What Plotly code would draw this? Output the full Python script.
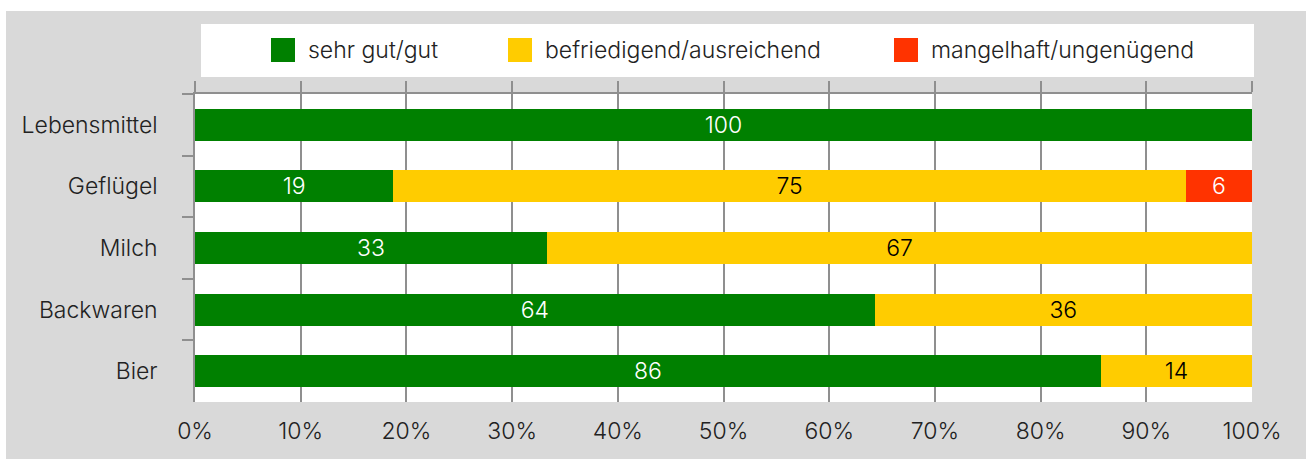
import plotly.graph_objects as go

categories = ["Lebensmittel", "Geflügel", "Milch", "Backwaren", "Bier"]
series_names = ["sehr gut/gut", "befriedigend/ausreichend", "mangelhaft/ungenügend"]
good = [100, 18.75, 33.3, 64.3, 85.7]
medium = [0, 75, 66.7, 35.7, 14.3]
bad = [0, 6.25, 0, 0, 0]
good_labels = ["100", "19", "33", "64", "86"]
medium_labels = ["", "75", "67", "36", "14"]
bad_labels = ["", "6", "", "", ""]
x_ticks = [0, 10, 20, 30, 40, 50, 60, 70, 80, 90, 100]
x_tick_labels = [f"{v}%" for v in x_ticks]

colors = ["#008000", "#ffcc00", "#ff3300"]
text_colors = ["white", "black", "white"]

W, H = 1306, 459
L, R, T, B = 195, 54, 94, 57
PW, PH = W - L - R, H - T - B
FONT = "Inter, Liberation Sans, Arial, sans-serif"
FSIZE = 23
FWEIGHT = 300
GRID = "#8f8f8f"


def px2x(px):
    return (px - L) / PW


def px2y(py):
    return 1 - (py - T) / PH


fig = go.Figure()
for vals, labels, name, col, tcol in zip(
    [good, medium, bad], [good_labels, medium_labels, bad_labels],
    series_names, colors, text_colors
):
    fig.add_trace(go.Bar(
        y=categories, x=vals, name=name, orientation="h",
        marker=dict(color=col, line=dict(width=0)),
        text=labels, texttemplate="%{text}", textposition="inside",
        insidetextanchor="middle", textangle=0, constraintext="none",
        insidetextfont=dict(color=tcol, size=FSIZE, family=FONT, weight=FWEIGHT),
        showlegend=False, hoverinfo="skip",
    ))

# invisible trace for the top axis (ticks only)
fig.add_trace(go.Scatter(x=[0, 100], y=[categories[0], categories[0]], xaxis="x2",
                         mode="markers", marker=dict(opacity=0), showlegend=False,
                         hoverinfo="skip"))

shapes = [
    dict(type="rect", xref="paper", yref="paper", x0=px2x(0), x1=px2x(W), y0=px2y(0), y1=px2y(11),
         fillcolor="white", line=dict(width=0), layer="below"),
    dict(type="rect", xref="paper", yref="paper", x0=px2x(0), x1=px2x(6), y0=px2y(0), y1=px2y(H),
         fillcolor="white", line=dict(width=0), layer="below"),
    dict(type="rect", xref="paper", yref="paper", x0=px2x(201), x1=px2x(1254), y0=px2y(24), y1=px2y(77),
         fillcolor="white", line=dict(width=0), layer="below"),
]
annotations = []
legend_sq = [271, 508, 894]
for sx, name, col in zip(legend_sq, series_names, colors):
    shapes.append(dict(type="rect", xref="paper", yref="paper", x0=px2x(sx), x1=px2x(sx + 24),
                       y0=px2y(38), y1=px2y(62), fillcolor=col, line=dict(width=0), layer="above"))
    annotations.append(dict(text=name, xref="paper", yref="paper", x=px2x(sx + 35), y=px2y(50),
                            xanchor="left", yanchor="middle", showarrow=False,
                            font=dict(size=FSIZE, color="#222222", family=FONT, weight=FWEIGHT)))

fig.update_layout(
    width=W, height=H,
    margin=dict(l=L, r=R, t=T, b=B, pad=0),
    paper_bgcolor="#d9d9d9", plot_bgcolor="white",
    barmode="stack", bargap=0.48,
    font=dict(family=FONT, size=FSIZE, color="#222222", weight=FWEIGHT),
    shapes=shapes, annotations=annotations,
    xaxis=dict(range=[0, 100], tickvals=x_ticks, ticktext=x_tick_labels,
               showgrid=True, gridcolor=GRID, gridwidth=1.5, zeroline=False,
               showline=False, ticks="", ticklabelstandoff=13, fixedrange=True),
    xaxis2=dict(range=[0, 100], tickvals=x_ticks, overlaying="x", side="top",
                showgrid=False, zeroline=False, showline=True, linecolor=GRID, linewidth=1.5,
                ticks="outside", ticklen=11, tickcolor=GRID, tickwidth=1.5,
                showticklabels=False, fixedrange=True),
    yaxis=dict(categoryorder="array", categoryarray=categories, autorange="reversed",
               showline=True, linecolor=GRID, linewidth=1.5,
               ticks="outside", tickson="boundaries", ticklen=11, tickcolor=GRID, tickwidth=1.5,
               showgrid=False, ticklabelstandoff=31, fixedrange=True),
)

fig.write_html("out.html", config={"displayModeBar": False},
               post_script="document.body.style.margin='0';document.body.style.overflow='hidden';")
